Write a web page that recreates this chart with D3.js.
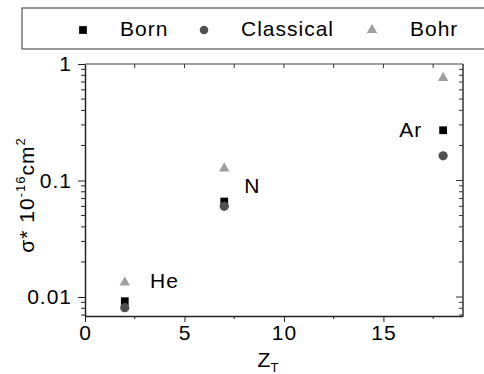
<!DOCTYPE html>
<html>
<head>
<meta charset="utf-8">
<script src="https://cdn.jsdelivr.net/npm/d3@7"></script>
<style>
  body { margin: 0; background: #fff; }
  text { font-family: "Liberation Sans", Arial, sans-serif; fill: #000; }
</style>
</head>
<body>
<div id="chart"></div>
<script>
// target atomic number and cross sections (10^-16 cm^2)
const targets = ["He", "N", "Ar"];
const zT = [2, 7, 18];
const born = [0.0092, 0.066, 0.27];
const classical = [0.0081, 0.060, 0.163];
const bohr = [0.0133, 0.127, 0.76];

// where the target names sit (data coords)
const labelX = [3.27, 8.0, 15.8];
const labelY = [0.0119, 0.0774, 0.237];

const xTicks = [0, 5, 10, 15];
const yTicks = [0.01, 0.1, 1];
const yTickLabels = ["0.01", "0.1", "1"];

const width = 484, height = 374;
const margin = { top: 64, right: 21, bottom: 58, left: 85 };

const svg = d3.select("#chart").append("svg")
  .attr("width", width)
  .attr("height", height);

const x = d3.scaleLinear().domain([0, 19]).range([margin.left, width - margin.right]);
const y = d3.scaleLog().domain([0.00687, 1]).range([height - margin.bottom, margin.top]);

const x0 = x.range()[0], x1 = x.range()[1];
const y0 = y.range()[0], y1 = y.range()[1];

// minor ticks
const xMinor = d3.range(0, 19, 2.5);
var yMinor = [];
[0.001, 0.01, 0.1].forEach(function (dec) {
  for (var k = 2; k <= 9; k++) {
    var v = dec * k;
    if (v >= y.domain()[0] && v < 1) yMinor.push(v);
  }
});

const g = svg.append("g");

// frame: top and right
g.append("line").attr("x1", x0).attr("x2", x1).attr("y1", y1).attr("y2", y1)
  .attr("stroke", "#808080").attr("stroke-width", 1.5);
g.append("line").attr("x1", x1).attr("x2", x1).attr("y1", y1).attr("y2", y0)
  .attr("stroke", "#333").attr("stroke-width", 1.5);

// top ticks (inward)
g.selectAll(".tt").data(xMinor.filter(function (d) { return d > 0; })).enter().append("line")
  .attr("x1", function (d) { return x(d); }).attr("x2", function (d) { return x(d); })
  .attr("y1", y1).attr("y2", y1 + 4)
  .attr("stroke", "#333").attr("stroke-width", 1);

// right ticks (inward)
g.selectAll(".rt").data(yMinor.concat([0.01, 0.1])).enter().append("line")
  .attr("x1", x1).attr("x2", function (d) { return yTicks.indexOf(d) >= 0 ? x1 - 7 : x1 - 4; })
  .attr("y1", function (d) { return y(d); }).attr("y2", function (d) { return y(d); })
  .attr("stroke", "#333").attr("stroke-width", 1);

// bottom axis
const xAxis = d3.axisBottom(x).tickValues(xTicks).tickSize(6).tickSizeOuter(0).tickPadding(3);
const gx = svg.append("g").attr("transform", "translate(0," + y0 + ")").call(xAxis);
gx.selectAll(".tick text").attr("font-size", 21).attr("letter-spacing", 1);
gx.selectAll(".tick line").attr("stroke", "#222");
gx.select(".domain").attr("stroke", "#222").attr("stroke-width", 1.5);
gx.selectAll(".mx").data(xMinor.filter(function (d) { return xTicks.indexOf(d) < 0; })).enter().append("line")
  .attr("x1", function (d) { return x(d); }).attr("x2", function (d) { return x(d); })
  .attr("y1", 0).attr("y2", 3).attr("stroke", "#222");

// left axis
const yAxis = d3.axisLeft(y).tickValues(yTicks)
  .tickFormat(function (d, i) { return yTickLabels[i]; })
  .tickSize(7).tickSizeOuter(0).tickPadding(6);
const gy = svg.append("g").attr("transform", "translate(" + x0 + ",0)").call(yAxis);
gy.selectAll(".tick text").attr("font-size", 21).attr("letter-spacing", 1);
gy.selectAll(".tick line").attr("stroke", "#222");
gy.select(".domain").attr("stroke", "#222").attr("stroke-width", 1.5);
gy.selectAll(".my").data(yMinor).enter().append("line")
  .attr("x1", 0).attr("x2", -4)
  .attr("y1", function (d) { return y(d); }).attr("y2", function (d) { return y(d); })
  .attr("stroke", "#222");

// axis titles
const xt = svg.append("text")
  .attr("x", 268).attr("y", 367)
  .attr("text-anchor", "middle").attr("font-size", 21);
xt.append("tspan").text("Z");
xt.append("tspan").attr("font-size", 13).attr("dy", 5).text("T");

const yt = svg.append("text")
  .attr("transform", "translate(34,195) rotate(-90)")
  .attr("text-anchor", "middle").attr("font-size", 21).attr("letter-spacing", 1);
yt.append("tspan").text("σ* 10");
yt.append("tspan").attr("font-size", 13).attr("dy", -9).text("-16");
yt.append("tspan").attr("dy", 9).text("cm");
yt.append("tspan").attr("font-size", 13).attr("dy", -9).text("2");

// markers
const tri = d3.symbol().type(d3.symbolTriangle).size(48);
const sq = d3.symbol().type(d3.symbolSquare).size(60);

svg.selectAll(".bohr").data(bohr).enter().append("path")
  .attr("d", tri)
  .attr("transform", function (d, i) { return "translate(" + x(zT[i]) + "," + y(d) + ")"; })
  .attr("fill", "#a0a0a0");

svg.selectAll(".born").data(born).enter().append("path")
  .attr("d", sq)
  .attr("transform", function (d, i) { return "translate(" + x(zT[i]) + "," + y(d) + ")"; })
  .attr("fill", "#000");

svg.selectAll(".classical").data(classical).enter().append("circle")
  .attr("cx", function (d, i) { return x(zT[i]); })
  .attr("cy", function (d) { return y(d); })
  .attr("r", 4.6)
  .attr("fill", "#505050");

// target names
svg.selectAll(".lbl").data(targets).enter().append("text")
  .attr("x", function (d, i) { return x(labelX[i]); })
  .attr("y", function (d, i) { return y(labelY[i]); })
  .attr("font-size", 21).attr("letter-spacing", 1)
  .text(function (d) { return d; });

// legend
const lg = svg.append("g");
lg.append("rect").attr("x", 22).attr("y", 8).attr("width", 480).attr("height", 41)
  .attr("fill", "#fff").attr("stroke", "#333").attr("stroke-width", 1);
lg.append("path").attr("d", sq).attr("transform", "translate(83,30)").attr("fill", "#000");
lg.append("circle").attr("cx", 204).attr("cy", 30).attr("r", 4.3).attr("fill", "#505050");
lg.append("path").attr("d", tri).attr("transform", "translate(372,30)").attr("fill", "#a0a0a0");
const legendNames = ["Born", "Classical", "Bohr"];
const legendX = [120, 241, 410];
lg.selectAll(".lt").data(legendNames).enter().append("text")
  .attr("x", function (d, i) { return legendX[i]; })
  .attr("y", 36)
  .attr("font-size", 21).attr("letter-spacing", 1)
  .text(function (d) { return d; });
</script>
</body>
</html>
